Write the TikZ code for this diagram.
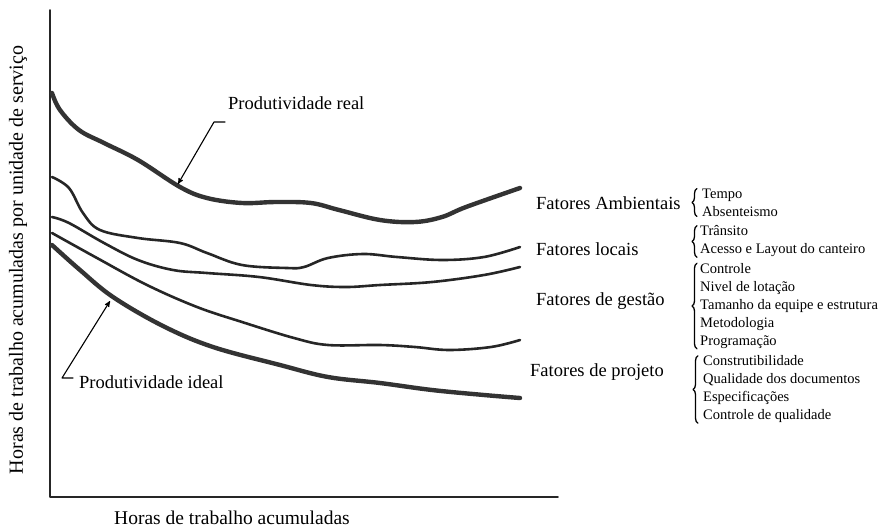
\documentclass[tikz,border=0pt]{standalone}
\usepackage{fontspec}
\setmainfont{Liberation Serif}
\usetikzlibrary{arrows,decorations.pathreplacing}

\begin{document}
\begin{tikzpicture}[x=1pt,y=-1pt,>=stealth',line cap=round,line join=round]
  \tikzstyle{axis}=[line width=1.8pt,black!85]
  \tikzstyle{thin curve}=[line width=2.6pt,black!85]
  \tikzstyle{thick curve}=[line width=4.4pt,black!80]
  \tikzstyle{leader}=[->,line width=1.1pt]
  \tikzstyle{label}=[anchor=west,inner sep=0pt,font=\fontsize{18.5}{22}\selectfont]
  \tikzstyle{items}=[anchor=west,inner sep=0pt,align=left,font=\fontsize{14.5}{18}\selectfont]
  \tikzstyle{curly}=[decorate,decoration={brace,amplitude=5pt},line width=1.3pt]

  \useasboundingbox (0,0) rectangle (892,528);

  % axes
  \coordinate (ytop) at (50,10);
  \coordinate (O)    at (50,497);
  \coordinate (xend) at (558,497);
  \draw[axis] (ytop) -- (O) -- (xend);

  \node (ylab) [rotate=90,inner sep=0pt,font=\fontsize{20}{24}\selectfont] at (18,260)
    {Horas de trabalho acumuladas por unidade de serviço};
  \node (xlab) [inner sep=0pt,font=\fontsize{19.5}{23}\selectfont] at (232,518)
    {Horas de trabalho acumuladas};

  % curves
  \draw[thick curve] plot[smooth,tension=0.6] coordinates {(52,93) (60,110) (79,130)
    (104,143) (138,160) (180,187) (207,198) (242,203) (276,202) (311,203) (339,210)
    (380,220) (415,222) (442,217) (466,207) (520,188)};
  \draw[thin curve] plot[smooth,tension=0.6] coordinates {(52,177) (69,188) (83,213)
    (100,230) (138,238) (180,243) (207,253) (242,265) (287,268) (304,267) (328,258)
    (363,254) (397,257) (442,260) (484,257) (520,247)};
  \draw[thin curve] plot[smooth,tension=0.6] coordinates {(52,217) (69,223) (104,243)
    (138,260) (173,270) (207,273) (259,277) (311,285) (346,287) (380,285) (432,282)
    (484,275) (520,267)};
  \draw[thin curve] plot[smooth,tension=0.6] coordinates {(52,233) (97,258) (147,285)
    (197,307) (242,322) (294,338) (328,345) (380,345) (415,347) (449,350) (491,347)
    (520,340)};
  \draw[thick curve] plot[smooth,tension=0.6] coordinates {(52,245) (80,270) (113,297)
    (163,326) (213,347) (280,365) (328,377) (380,383) (432,390) (484,395) (520,398)};

  % curve labels
  \node[label] (real)  at (228,103) {Produtividade real};
  \node[label] (ideal) at (79,382)  {Produtividade ideal};

  \coordinate (realstart) at (225,122);
  \coordinate (realbend)  at (214,122);
  \coordinate (realtip)   at (178,184);
  \coordinate (idealstart) at (73,378);
  \coordinate (idealbend)  at (62,378);
  \coordinate (idealtip)   at (110,301);
  \draw[leader] (realstart) -- (realbend) -- (realtip);
  \draw[leader] (idealstart) -- (idealbend) -- (idealtip);

  % factors
  \node[label] (amb)  at (536,203) {Fatores Ambientais};
  \node[label] (loc)  at (536,249) {Fatores locais};
  \node[label] (ges)  at (536,301) {Fatores de gestão};
  \node[label] (proj) at (530,372) {Fatores de projeto};

  \node[items] (ambl)  at (702,202.5) {Tempo\\Absenteismo};
  \node[items] (locl)  at (700,241.5) {Trânsito\\Acesso e Layout do canteiro};
  \node[items] (gesl)  at (700,306)   {Controle\\Nivel de lotação\\Tamanho da equipe e estrutura\\Metodologia\\Programação};
  \node[items] (projl) at (703,389.5) {Construtibilidade\\Qualidade dos documentos\\Especificações\\Controle de qualidade};

  \draw[curly] ([xshift=-5pt]ambl.south west)  -- ([xshift=-5pt]ambl.north west);
  \draw[curly] ([xshift=-3pt]locl.south west)  -- ([xshift=-3pt]locl.north west);
  \draw[curly] ([xshift=-3pt]gesl.south west)  -- ([xshift=-3pt]gesl.north west);
  \draw[curly] ([xshift=-5pt]projl.south west) -- ([xshift=-5pt]projl.north west);

\end{tikzpicture}
\end{document}
